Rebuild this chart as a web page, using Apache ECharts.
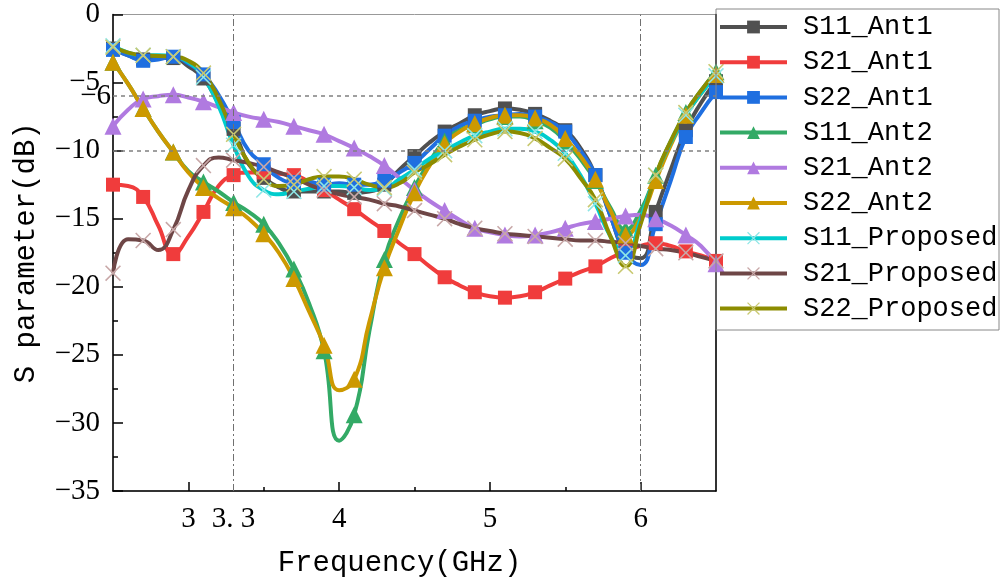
<!DOCTYPE html>
<html><head><meta charset="utf-8">
<script src="https://cdn.jsdelivr.net/npm/echarts@6/dist/echarts.min.js"></script>
<style>html,body{margin:0;padding:0;background:#fff}#c{width:1000px;height:583px}</style>
</head><body><div id="c"></div>
<script>
const freq = [2.5,2.6,2.7,2.8,2.9,3.0,3.1,3.2,3.3,3.4,3.5,3.6,3.7,3.8,3.9,4.0,4.1,4.2,4.3,4.4,4.5,4.6,4.7,4.8,4.9,5.0,5.1,5.2,5.3,5.4,5.5,5.6,5.7,5.8,5.9,6.0,6.1,6.2,6.3,6.4,6.5];
const s11Ant1 = [-2.5,-3.0,-3.3,-3.2,-3.2,-3.8,-4.7,-6.5,-8.4,-11.0,-12.0,-12.7,-13.0,-13.0,-13.0,-13.0,-13.1,-13.0,-12.5,-11.4,-10.4,-9.4,-8.6,-8.0,-7.4,-7.1,-6.9,-7.0,-7.3,-7.8,-8.5,-9.8,-11.8,-14.8,-17.4,-17.9,-14.5,-11.4,-8.5,-6.5,-4.9];
const s21Ant1 = [-12.5,-12.6,-13.4,-15.5,-17.6,-16.3,-14.5,-12.6,-11.8,-11.6,-11.6,-11.7,-11.8,-12.3,-12.9,-13.6,-14.3,-15.1,-15.9,-16.8,-17.6,-18.5,-19.3,-19.9,-20.4,-20.7,-20.8,-20.7,-20.4,-19.9,-19.4,-18.9,-18.5,-17.9,-17.4,-17.0,-16.8,-17.0,-17.4,-17.7,-18.1];
const s22Ant1 = [-2.6,-3.0,-3.4,-3.3,-3.1,-3.6,-4.4,-5.9,-7.9,-10.0,-11.0,-12.0,-12.3,-12.3,-12.5,-12.4,-12.5,-12.5,-12.2,-11.6,-10.9,-9.9,-8.9,-8.2,-7.8,-7.5,-7.4,-7.3,-7.5,-7.9,-8.6,-10.0,-11.8,-14.8,-17.5,-18.4,-15.4,-12.2,-9.0,-7.2,-5.7];
const s11Ant2 = [-3.5,-5.1,-6.9,-8.6,-10.1,-11.5,-12.3,-13.0,-13.8,-14.5,-15.4,-16.8,-18.7,-21.2,-24.7,-31.3,-29.4,-23.3,-18.0,-15.0,-12.7,-10.8,-9.3,-8.5,-8.1,-7.7,-7.5,-7.5,-7.8,-8.3,-9.3,-10.6,-12.2,-14.2,-15.8,-14.4,-11.8,-9.3,-7.2,-5.6,-4.2];
const s21Ant2 = [-8.2,-7.0,-6.2,-6.0,-5.9,-6.1,-6.4,-6.8,-7.2,-7.5,-7.7,-7.9,-8.2,-8.5,-8.8,-9.3,-9.8,-10.4,-11.1,-12.0,-12.9,-13.7,-14.4,-15.1,-15.7,-16.0,-16.2,-16.3,-16.2,-16.0,-15.7,-15.4,-15.2,-15.0,-14.8,-14.7,-15.0,-15.5,-16.2,-17.0,-18.3];
const s22Ant2 = [-3.5,-5.1,-6.9,-8.6,-10.1,-11.6,-12.7,-13.5,-14.2,-15.0,-16.1,-17.5,-19.4,-21.8,-24.3,-27.6,-26.8,-22.6,-18.6,-15.7,-13.1,-11.1,-9.5,-8.6,-8.0,-7.6,-7.4,-7.4,-7.6,-8.1,-9.1,-10.4,-12.1,-14.4,-16.2,-14.9,-12.2,-9.6,-7.4,-5.8,-4.4];
const s11Prop = [-2.3,-2.8,-3.0,-3.0,-3.1,-3.5,-4.6,-6.7,-9.6,-11.9,-12.9,-13.2,-13.0,-12.8,-12.6,-12.6,-12.7,-12.9,-12.8,-12.1,-11.4,-10.6,-10.0,-9.4,-8.9,-8.6,-8.4,-8.4,-8.6,-9.2,-10.2,-11.8,-13.9,-16.3,-17.7,-15.0,-11.8,-9.4,-7.4,-5.8,-4.5];
const s21Prop = [-19.0,-16.5,-16.6,-17.3,-15.8,-12.9,-11.1,-10.5,-10.7,-10.9,-11.2,-11.6,-12.0,-12.5,-12.9,-13.2,-13.4,-13.6,-13.9,-14.1,-14.4,-14.7,-15.0,-15.4,-15.7,-15.9,-16.1,-16.2,-16.3,-16.4,-16.5,-16.6,-16.6,-16.7,-16.8,-17.0,-17.2,-17.3,-17.5,-17.8,-18.1];
const s22Prop = [-2.4,-2.8,-3.0,-3.05,-3.1,-3.4,-4.3,-6.2,-8.8,-10.9,-12.1,-12.6,-12.5,-12.1,-11.9,-11.9,-12.1,-12.5,-12.7,-12.4,-11.6,-11.0,-10.3,-9.7,-9.2,-8.8,-8.6,-8.7,-9.1,-9.8,-10.6,-12.0,-13.6,-16.3,-18.5,-15.4,-11.8,-9.3,-7.2,-5.6,-4.2];
const names = ['S11_Ant1','S21_Ant1','S22_Ant1','S11_Ant2','S21_Ant2','S22_Ant2','S11_Proposed','S21_Proposed','S22_Proposed'];
const xLabelValues = [3, 3.3, 4, 5, 6];
const xMajorTicks = [3, 4, 5, 6];
const xMinorTicks = [3.5, 4.5, 5.5];

const CROSS = 'path://M0,1.4L1.4,0L10,8.6L18.6,0L20,1.4L11.4,10L20,18.6L18.6,20L10,11.4L1.4,20L0,18.6L8.6,10Z';
const LW = 4;
function mk(name, vals, color, symbol, size, symColor, extra) {
  const s = {
    name, type: 'line', smooth: 0.5, showAllSymbol: true, symbol, symbolSize: size,
    data: freq.map((f, i) => ({ value: [f, vals[i]], symbol: i % 2 === 0 ? symbol : 'none' })),
    lineStyle: { color: color, width: LW },
    itemStyle: { color: symColor || color },
    emphasis: { disabled: true }
  };
  return Object.assign(s, extra || {});
}
const tickFont = { fontFamily: 'Liberation Serif', fontSize: 29, color: '#000' };
const minus = v => String(v).replace('-', '\u2212');

const series = [
  mk(names[0], s11Ant1, '#505050', 'rect', 14, null, {
    markLine: {
      silent: true, symbol: ['none', 'none'], animation: false,
      label: { show: false },
      data: [
        { yAxis: -6, lineStyle: { color: '#808080', type: [4, 4], width: 1.5 },
          label: { show: true, position: 'start', formatter: '\u22126', distance: 2, fontFamily: 'Liberation Serif', fontSize: 29, color: '#000' } },
        { yAxis: -10, lineStyle: { color: '#808080', type: [4, 4], width: 1.5 } },
        { xAxis: 3.3, lineStyle: { color: '#707070', type: [7, 3, 2, 3], width: 1 } },
        { xAxis: 6, lineStyle: { color: '#707070', type: [7, 3, 2, 3], width: 1 } }
      ]
    }
  }),
  mk(names[1], s21Ant1, '#f03c3c', 'rect', 14),
  mk(names[2], s22Ant1, '#1f6fe0', 'rect', 14),
  mk(names[3], s11Ant2, '#33aa66', 'triangle', 17),
  mk(names[4], s21Ant2, '#b07ae0', 'triangle', 17),
  mk(names[5], s22Ant2, '#cc9900', 'triangle', 17),
  mk(names[6], s11Prop, '#00cccc', CROSS, 16, '#8ee6e6'),
  mk(names[7], s21Prop, '#6e4646', CROSS, 16, '#c8a8a8'),
  mk(names[8], s22Prop, '#8c8c00', CROSS, 16, '#c8c870')
];

const chart = echarts.init(document.getElementById('c'), null, { renderer: 'canvas' });
chart.setOption({
  animation: false,
  backgroundColor: '#fff',
  grid: { left: 113, right: 284, top: 9, bottom: 89, show: true, borderColor: '#999', borderWidth: 1, backgroundColor: 'transparent' },
  legend: {
    data: names, orient: 'vertical', left: 718, top: 12, padding: 0,
    itemWidth: 67, itemHeight: 16, itemGap: 5.2,
    lineStyle: { width: LW },
    textStyle: { fontFamily: 'Liberation Mono', fontSize: 27, color: '#000', lineHeight: 30, padding: [0, 0, 0, 11] },
    selectedMode: false
  },
  graphic: [{ type: 'rect', shape: { x: 716, y: 9, width: 283, height: 321 }, style: { fill: 'none', stroke: '#888', lineWidth: 1 }, z: 100 }],
  xAxis: [{
    type: 'value', min: 2.5, max: 6.5, position: 'bottom',
    axisLine: { onZero: false, lineStyle: { color: '#000', width: 1.5 } },
    axisTick: { inside: true, length: 9, customValues: xMajorTicks, lineStyle: { color: '#000', width: 1.5 } },
    axisLabel: Object.assign({ customValues: xLabelValues, margin: 14, formatter: v => (Math.abs(v - 3.3) < 1e-6 ? '3. 3' : String(v)) }, tickFont),
    splitLine: { show: false },
    name: 'Frequency(GHz)', nameLocation: 'middle', nameGap: 58,
    nameTextStyle: { fontFamily: 'Liberation Mono', fontSize: 29, color: '#000', padding: [0, 30, 0, 0] }
  }, {
    type: 'value', min: 2.5, max: 6.5, position: 'bottom', offset: 0,
    axisLine: { show: false, onZero: false },
    axisTick: { inside: true, length: 4, customValues: xMinorTicks, lineStyle: { color: '#000', width: 1.5 } },
    axisLabel: { show: false }, splitLine: { show: false }
  }],
  yAxis: [{
    type: 'value', min: -35, max: 0, interval: 5, position: 'left',
    axisLine: { show: true, onZero: false, lineStyle: { color: '#000', width: 1.5 } },
    axisTick: { inside: true, length: 10, lineStyle: { color: '#000', width: 1.5 } },
    minorTick: { show: true, splitNumber: 2, length: 5, lineStyle: { color: '#000', width: 1.5 } },
    axisLabel: Object.assign({ margin: 13, formatter: minus }, tickFont),
    splitLine: { show: false },
    name: 'S parameter(dB)', nameLocation: 'middle', nameGap: 72, nameRotate: 90,
    nameTextStyle: { fontFamily: 'Liberation Mono', fontSize: 29, color: '#000' }
  }, {
    type: 'value', min: -35, max: 0, position: 'right',
    axisLine: { show: true, onZero: false, lineStyle: { color: '#000', width: 1.5 } },
    axisTick: { show: false }, axisLabel: { show: false }, splitLine: { show: false }
  }],
  series
});
</script></body></html>
